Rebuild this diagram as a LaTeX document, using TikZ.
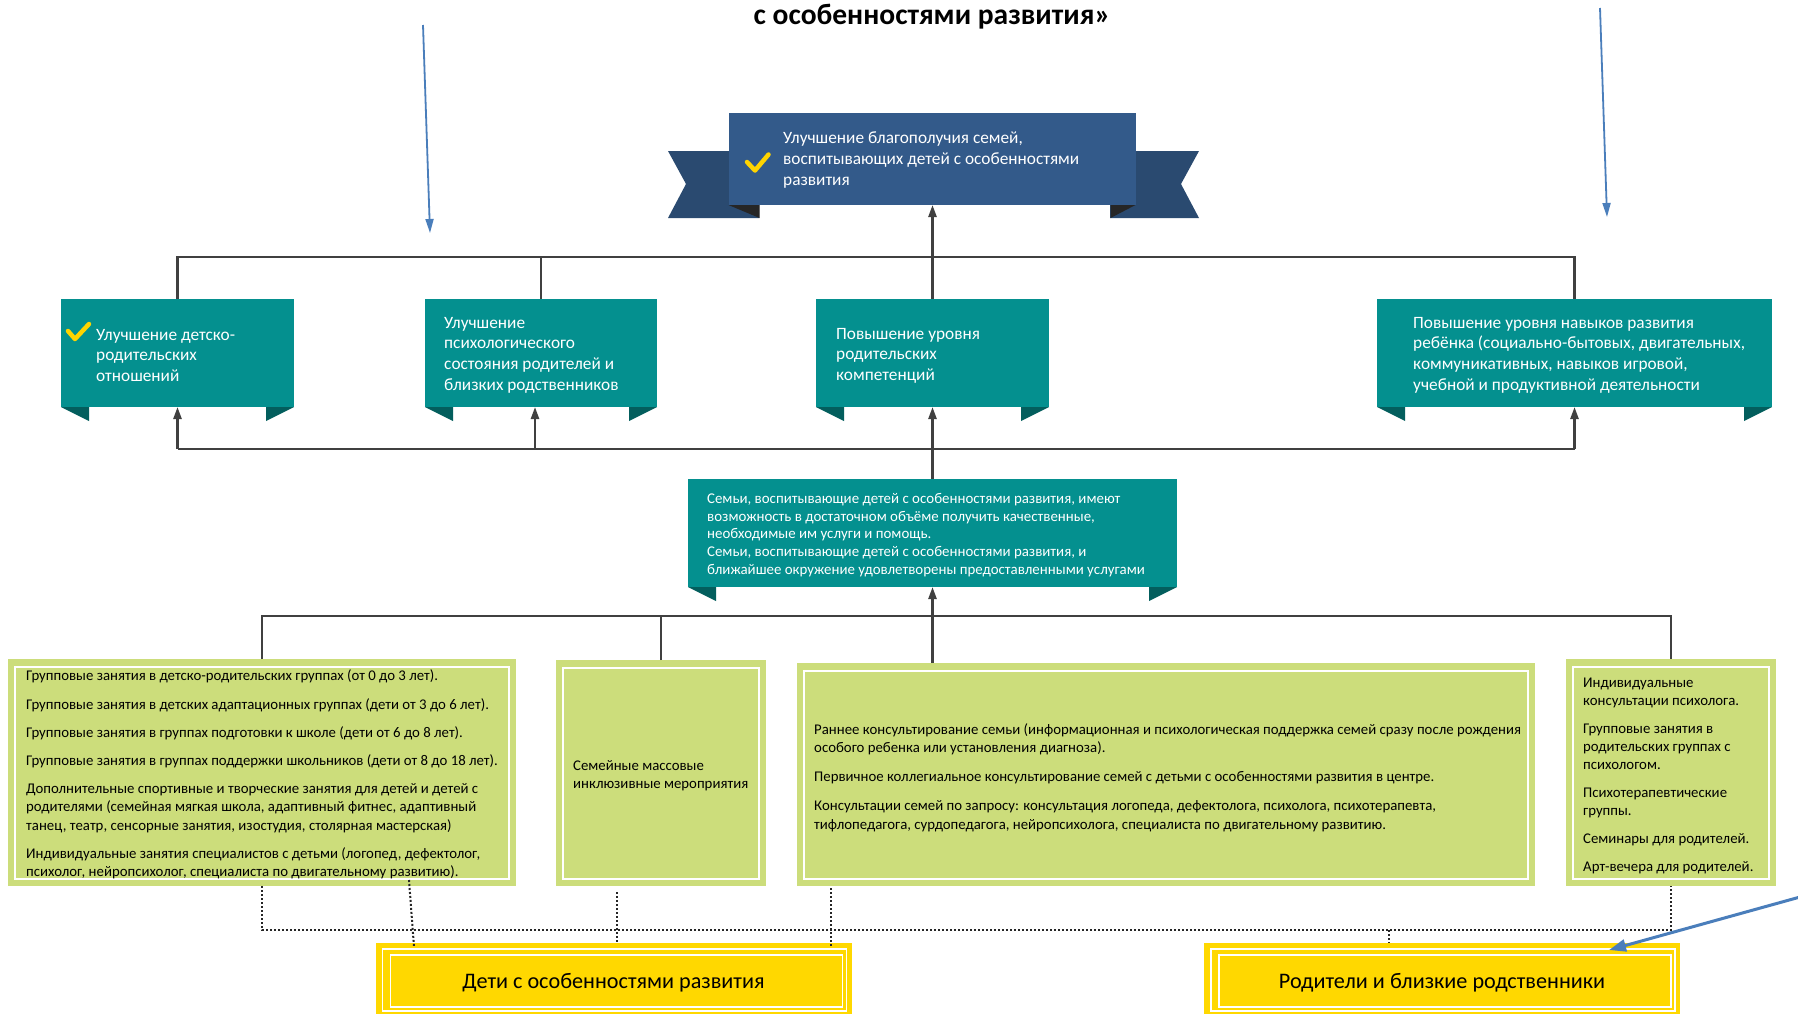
\documentclass[tikz,border=0pt]{standalone}
\usepackage{fontspec}
\setmainfont{Carlito}
\usetikzlibrary{arrows.meta,calc}
\definecolor{bannerblue}{HTML}{335A8A}
\definecolor{ribbonblue}{HTML}{2A4A70}
\definecolor{folddark}{HTML}{262626}
\definecolor{tealbox}{HTML}{04908F}
\definecolor{tealfold}{HTML}{035E5D}
\definecolor{greenbox}{HTML}{CCDD7B}
\definecolor{yellowbox}{HTML}{FFD800}
\definecolor{connector}{HTML}{404040}
\definecolor{bluearrow}{HTML}{4A7EBB}
\definecolor{checkyellow}{HTML}{FFD400}
\newcommand\tealfolds[1]{%
  \fill[tealfold] (#1.south west) -- ++(28,0) -- ++(0,14) -- cycle;
  \fill[tealfold] (#1.south east) -- ++(-28,0) -- ++(0,14) -- cycle;}
\newcommand\greeninner[1]{%
  \draw[white,line width=1.4pt] ([shift={(7,8)}]#1.north west) rectangle ([shift={(-7,-7)}]#1.south east);}
\newcommand\yellowinner[1]{%
  \draw[white,line width=1.5pt] ([shift={(7,6)}]#1.north west) rectangle ([shift={(-5,-3)}]#1.south east);
  \draw[white,line width=1.5pt] ([shift={(15,12)}]#1.north west) rectangle ([shift={(-9,-7)}]#1.south east);}
\tikzset{
  boxbase/.style={inner sep=0pt, outer sep=0pt, draw=none},
  bannernode/.style={boxbase, fill=bannerblue},
  tealnode/.style={boxbase, fill=tealbox, minimum height=108pt},
  greennode/.style={boxbase, fill=greenbox},
  yellownode/.style={boxbase, fill=yellowbox, minimum width=476pt, minimum height=71pt},
  yellowtext/.style={inner sep=0pt, text=black, font=\fontsize{22.2}{26}\selectfont},
  whitetext/.style={anchor=west, align=left, text=white, inner sep=0pt,
    font=\fontsize{17.3}{20.6}\selectfont},
  smalltext/.style={anchor=west, align=left, text=black, inner sep=0pt,
    font=\fontsize{14.8}{18.2}\selectfont},
  conn/.style={draw=connector, line width=2.4pt},
  Tri/.tip={Triangle[length=12pt,width=8pt]},
  dots/.style={draw=black!85, line width=2pt, dash pattern=on 2pt off 2pt},
  bluearr/.style={draw=bluearrow, line width=1.8pt, -{Triangle[length=14pt,width=8pt]}},
  checkmark/.style={draw=checkyellow, line width=4.5pt, line cap=round, line join=round},
}
\begin{document}
\begin{tikzpicture}[x=1pt,y=-1pt]
\useasboundingbox[fill=white] (0,0) rectangle (1798,1015);

% title
\node[font=\bfseries\fontsize{29.5}{33}\selectfont, inner sep=0pt] (title) at (932,17) {с особенностями развития»};

% banner
\fill[ribbonblue] (668,151) -- (759,151) -- (759,218) -- (668,218) -- (686,184) -- cycle;
\fill[ribbonblue] (1199,151) -- (1110,151) -- (1110,218) -- (1199,218) -- (1181,184) -- cycle;
\node[bannernode, minimum width=407pt, minimum height=92pt] (goal) at (932,159) {};
\fill[folddark] (goal.south west) -- ++(31,0) -- ++(0,13) -- cycle;
\fill[folddark] (goal.south east) -- ++(-25,0) -- ++(0,13) -- cycle;
\draw[checkmark] (747,162) -- (755,170.5) -- (768.5,154.5);
\node[whitetext] (goaltxt) at (783,160) {Улучшение благополучия семей,\\воспитывающих детей с особенностями\\развития};

% second row teal boxes
\node[tealnode, minimum width=233pt] (b1) at (177.5,353) {};
\node[tealnode, minimum width=232pt] (b2) at (541,353) {};
\node[tealnode, minimum width=233pt] (b3) at (932.5,353) {};
\node[tealnode, minimum width=395pt] (b4) at (1574.5,353) {};
\tealfolds{b1}\tealfolds{b2}\tealfolds{b3}\tealfolds{b4}
\draw[checkmark] (68,331) -- (75,339) -- (89,324);
\node[whitetext] (t1) at (96,355.5) {Улучшение детско-\\родительских\\отношений};
\node[whitetext] (t2) at (444,355) {Улучшение\\психологического\\состояния родителей и\\близких родственников};
\node[whitetext] (t3) at (836,355.5) {Повышение уровня\\родительских\\компетенций};
\node[whitetext] (t4) at (1413,355) {Повышение уровня навыков развития\\ребёнка (социально-бытовых, двигательных,\\коммуникативных, навыков игровой,\\учебной и продуктивной деятельности};

% center teal box
\node[tealnode, minimum width=489pt] (cb) at (932.5,533) {};
\tealfolds{cb}
\node[whitetext, font=\fontsize{14.9}{17.8}\selectfont] (cbt) at (707,535) {Семьи, воспитывающие детей с особенностями развития, имеют\\возможность в достаточном объёме получить качественные,\\необходимые им услуги и помощь.\\Семьи, воспитывающие детей с особенностями развития, и\\ближайшее окружение удовлетворены предоставленными услугами};

% connectors top
\path (b1.north) ++(0,-42) coordinate (th);
\draw[conn] (b1.north) -- (b1.north |- th) -- (b4.north |- th) -- (b4.north);
\draw[conn] (b2.north) -- (b2.north |- th);
\draw[conn,-Tri] (b3.north) -- (b3.north |- goal.south);

% connectors middle
\path (cb.north) ++(0,-30) coordinate (bh);
\draw[conn] (b1.south |- bh) -- (b4.south |- bh);
\draw[conn,-Tri] (b1.south |- bh) -- (b1.south);
\draw[conn,-Tri] ([xshift=-6pt]b2.south |- bh) -- ([xshift=-6pt]b2.south);
\draw[conn,-Tri] (cb.north) -- (cb.north |- b3.south);
\draw[conn,-Tri] (b4.south |- bh) -- (b4.south);

% green boxes
\node[greennode, minimum width=508pt, minimum height=227pt] (g1) at (262,772.5) {};
\node[greennode, minimum width=210pt, minimum height=226pt] (g2) at (661,773) {};
\node[greennode, minimum width=738pt, minimum height=223pt] (g3) at (1166,774.5) {};
\node[greennode, minimum width=210pt, minimum height=227pt] (g4) at (1671,772.5) {};
\greeninner{g1}\greeninner{g2}\greeninner{g3}\greeninner{g4}

\node[smalltext] (g1t) at (26,774.5) {Групповые занятия в детско-родительских группах (от 0 до 3 лет).\\[10pt]
Групповые занятия в детских адаптационных группах (дети от 3 до 6 лет).\\[10pt]
Групповые занятия в группах подготовки к школе (дети от 6 до 8 лет).\\[10pt]
Групповые занятия в группах поддержки школьников (дети от 8 до 18 лет).\\[10pt]
Дополнительные спортивные и творческие занятия для детей и детей с\\
родителями (семейная мягкая школа, адаптивный фитнес, адаптивный\\
танец, театр, сенсорные занятия, изостудия, столярная мастерская)\\[10pt]
Индивидуальные занятия специалистов с детьми (логопед, дефектолог,\\
психолог, нейропсихолог, специалиста по двигательному развитию).};
\node[smalltext] (g2t) at (573,775.5) {Семейные массовые\\инклюзивные мероприятия};
\node[smalltext] (g3t) at (814,777.5) {Раннее консультирование семьи (информационная и психологическая поддержка семей сразу после рождения\\
особого ребенка или установления диагноза).\\[11pt]
Первичное коллегиальное консультирование семей с детьми с особенностями развития в центре.\\[11pt]
Консультации семей по запросу: консультация логопеда, дефектолога, психолога, психотерапевта,\\
тифлопедагога, сурдопедагога, нейропсихолога, специалиста по двигательному развитию.};
\node[smalltext] (g4t) at (1583,776) {Индивидуальные\\консультации психолога.\\[9.5pt]
Групповые занятия в\\родительских группах с\\психологом.\\[9.5pt]
Психотерапевтические\\группы.\\[9.5pt]
Семинары для родителей.\\[10pt]
Арт-вечера для родителей.};

% connectors to green boxes
\path (cb.south) ++(0,29) coordinate (gh);
\draw[conn] (g1.north) -- (g1.north |- gh) -- (g4.north |- gh) -- (g4.north);
\draw[conn] (g2.north) -- (g2.north |- gh);
\draw[conn,-Tri] (cb.south |- g3.north) -- (cb.south);

% yellow boxes
\node[yellownode] (y1) at (613.5,978.5) {};
\node[yellownode] (y2) at (1442,978.5) {};
\yellowinner{y1}\yellowinner{y2}
\node[yellowtext] (y1t) at ([shift={(0,4)}]y1.center) {Дети с особенностями развития};
\node[yellowtext] (y2t) at ([shift={(0,4)}]y2.center) {Родители и близкие родственники};

% dotted connectors
\path (g1.south) ++(0,44) coordinate (dh);
\draw[dots] (g1.south) -- (g1.south |- dh) -- (g4.south |- dh) -- (g4.south);
\draw[dots] ([shift={(147,-6)}]g1.south) -- ([shift={(-199.5,4)}]y1.north);
\draw[dots] ([shift={(-44,6)}]g2.south) -- ([shift={(3.5,0)}]y1.north);
\draw[dots] ([shift={(34,2)}]g3.south west) -- ([shift={(217.5,4)}]y1.north);
\draw[dots] ([shift={(-53,-13)}]y2.north) -- ([shift={(-53,0)}]y2.north);

% blue arrows
\coordinate (blA0) at (423,25);
\coordinate (blA1) at (430,233);
\coordinate (blB0) at (1600,8);
\coordinate (blB1) at (1607,217);
\coordinate (blC0) at (1800,897);
\draw[bluearr] (blA0) -- (blA1);
\draw[bluearr] (blB0) -- (blB1);
\draw[draw=bluearrow, line width=3pt, -{Triangle[length=17pt,width=12pt]}] (blC0) -- ([shift={(-71,7)}]y2.north east);
\end{tikzpicture}
\end{document}
